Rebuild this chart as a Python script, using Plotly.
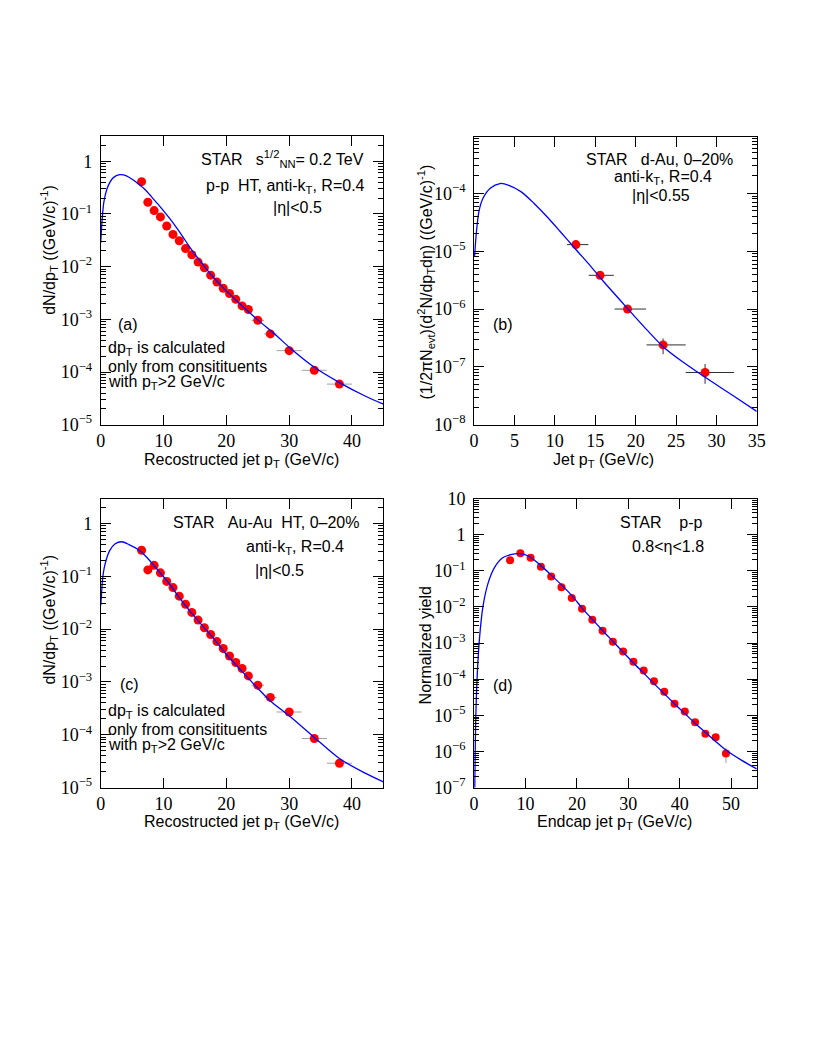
import plotly.graph_objects as go

# ---------------- data ----------------
# (a) p-p HT, anti-kT R=0.4, |eta|<0.5
a_pt = [6.5, 7.5, 8.5, 9.5, 10.5, 11.5, 12.5, 13.5, 14.5, 15.5, 16.5, 17.5,
        18.5, 19.5, 20.5, 21.5, 22.5, 23.5, 25, 27, 30, 34, 38]
a_yield = [0.41, 0.167, 0.116, 0.088, 0.059, 0.041, 0.031, 0.022, 0.0168, 0.0122,
           0.0095, 0.0069, 0.0051, 0.0039, 0.0031, 0.0024, 0.0018, 0.00154,
           9.6e-4, 5.3e-4, 2.55e-4, 1.08e-4, 5.9e-5]
a_pt_err = [0.5, 0.5, 0.5, 0.5, 0.5, 0.5, 0.5, 0.5, 0.5, 0.5, 0.5, 0.5,
            0.5, 0.5, 0.5, 0.5, 0.5, 0.5, 1, 1, 2, 2, 2]
# fit curve, log10 of the yield
a_fit_pt = [0, 0.1, 0.2, 0.5, 1, 1.5, 2, 3, 4, 5, 6, 7, 8, 9, 10, 11, 12, 13,
            14, 15, 16, 17, 18, 20, 22, 25, 28, 30, 34, 38, 42, 45]
a_fit_log = [-1.55, -1.32, -1.14, -0.77, -0.52, -0.39, -0.31, -0.255, -0.27, -0.34,
             -0.43, -0.53, -0.66, -0.80, -0.94, -1.09, -1.25, -1.42, -1.60, -1.765,
             -1.92, -2.07, -2.21, -2.46, -2.69, -3.01, -3.31, -3.53, -3.91, -4.20,
             -4.45, -4.61]

# (b) d-Au 0-20%, anti-kT R=0.4, |eta|<0.55
b_pt = [12.6, 15.6, 19.0, 23.4, 28.6]
b_yield = [1.3e-5, 3.83e-6, 1.0e-6, 2.4e-7, 8.0e-8]
b_bin_lo = [11.5, 14.2, 17.4, 21.35, 26.2]
b_bin_hi = [14.15, 17.3, 21.3, 26.2, 32.2]
b_err_up = [0.4e-6, 0.15e-6, 0.05e-6, 0.69e-7, 3.2e-8]
b_err_dn = [0.4e-6, 0.15e-6, 0.05e-6, 0.74e-7, 2.9e-8]
b_fit_pt = [0.05, 0.3, 0.6, 1.1, 2, 3.2, 4.3, 5.8, 7.4, 9, 10.6, 12.6, 14.5, 16,
            19, 21, 23.4, 26, 28.6, 32, 35]
b_fit_log = [-5.1, -4.65, -4.31, -4.085, -3.91, -3.83, -3.86, -3.97, -4.17, -4.40,
             -4.65, -4.97, -5.27, -5.52, -5.99, -6.30, -6.65, -6.93, -7.18, -7.49,
             -7.77]

# (c) Au-Au HT 0-20%, anti-kT R=0.4, |eta|<0.5
c_pt = [6.5, 7.5, 8.5, 9.5, 10.5, 11.5, 12.5, 13.5, 14.5, 15.5, 16.5, 17.5,
        18.5, 19.5, 20.5, 21.5, 22.5, 23.5, 25, 27, 30, 34, 38]
c_yield = [0.31, 0.132, 0.161, 0.116, 0.080, 0.061, 0.042, 0.0296, 0.0207, 0.0148,
           0.0106, 0.0079, 0.0058, 0.0043, 0.0031, 0.00234, 0.0018, 0.0013,
           8.7e-4, 5.1e-4, 2.7e-4, 8.5e-5, 2.9e-5]
c_pt_err = [0.5, 0.5, 0.5, 0.5, 0.5, 0.5, 0.5, 0.5, 0.5, 0.5, 0.5, 0.5,
            0.5, 0.5, 0.5, 0.5, 0.5, 0.5, 1, 1, 2, 2, 2]
c_fit_pt = [0, 0.1, 0.27, 0.63, 1.4, 2.3, 3.35, 4.5, 5.9, 7.2, 8.5, 9.8, 11.1,
            12.6, 14.2, 16, 18, 20, 22.5, 25, 27, 30, 34, 38, 42, 45]
c_fit_log = [-1.55, -1.39, -1.08, -0.80, -0.52, -0.385, -0.347, -0.40, -0.49, -0.625,
             -0.80, -0.98, -1.17, -1.42, -1.66, -1.91, -2.18, -2.48, -2.80, -3.12,
             -3.36, -3.64, -4.05, -4.45, -4.72, -4.89]

# (d) p-p endcap, 0.8<eta<1.8
d_pt = [7, 9, 11, 13, 15, 17, 19, 21, 23, 25, 27, 29, 31, 33, 35, 37, 39, 41,
        43, 45, 47, 49]
d_yield = [0.198, 0.306, 0.229, 0.13, 0.07, 0.0354, 0.0178, 0.0089, 0.0044, 0.0022,
           0.0011, 5.9e-4, 3.06e-4, 1.75e-4, 8.8e-5, 4.5e-5, 2.1e-5, 1.29e-5,
           6.5e-6, 3.1e-6, 2.5e-6, 8.8e-7]
d_err = [0, 0, 0, 0, 0, 0, 0, 0, 0, 0, 0, 0, 0, 0, 0, 0, 0, 0, 0, 0, 0, 4.0e-7]
d_fit_pt = [0.13, 0.33, 0.64, 1.09, 1.72, 2.68, 3.96, 5.55, 7.15, 8.74, 10.65,
            12.56, 14.8, 17.3, 19.25, 21, 23, 25, 27, 29, 31, 33, 35, 37, 39, 41,
            43, 45, 47, 49, 52, 55]
d_fit_log = [-7.0, -5.05, -3.79, -2.80, -1.99, -1.36, -0.91, -0.64, -0.55, -0.525,
             -0.595, -0.80, -1.09, -1.43, -1.72, -2.03, -2.34, -2.65, -2.95, -3.25,
             -3.55, -3.83, -4.12, -4.40, -4.68, -4.95, -5.22, -5.47, -5.72, -5.96,
             -6.24, -6.48]

# ---------------- layout helpers ----------------
W, H = 801, 1042          # page body adds 8px margin


def fx(px):
    return (px - 8) / W


def fy(py):
    return 1 - (py - 8) / H


TICKFONT = dict(family='Liberation Serif, Times New Roman, serif', size=18,
                color='black')
TEXTFONT = dict(family='Liberation Sans, Arial, sans-serif', size=16, color='black')


def x_axis(x0, x1, rng, dtick, anchor):
    return dict(domain=[fx(x0), fx(x1)], range=rng, dtick=dtick, tick0=0,
                ticks='inside', ticklen=10, tickwidth=1, tickcolor='black',
                showline=True, linecolor='black', linewidth=1, mirror='allticks',
                showgrid=False, zeroline=False, anchor=anchor, tickfont=TICKFONT,
                ticklabelstandoff=0)


def y_axis(y0, y1, lo, top, anchor):
    hi = int(top) if top >= 0 else -int(-top)
    decades = list(range(lo, hi + 1))
    vals = [10.0 ** n for n in decades]
    text = []
    for n in decades:
        if n == 0:
            text.append('1')
        elif n == 1:
            text.append('10')
        else:
            text.append('10<sup>\u2212%d</sup>' % (-n))
    minor = [k * 10.0 ** n for n in range(lo, hi + 1) for k in range(2, 10)]
    return dict(domain=[fy(y1), fy(y0)], type='log', range=[lo, top],
                tickmode='array', tickvals=vals, ticktext=text,
                ticks='inside', ticklen=10, tickwidth=1, tickcolor='black',
                minor=dict(tickmode='array', tickvals=minor, ticks='inside',
                           ticklen=5, tickwidth=1, tickcolor='black'),
                showline=True, linecolor='black', linewidth=1, mirror='allticks',
                showgrid=False, zeroline=False, anchor=anchor, tickfont=TICKFONT,
                ticklabelstandoff=4)


fig = go.Figure()


def add_panel(xa, ya, pt, y, ex_plus, ex_minus, ey_plus, ey_minus, err_color,
              fit_pt, fit_log, msize):
    fig.add_trace(go.Scatter(
        x=pt, y=y, mode='markers', xaxis=xa, yaxis=ya, showlegend=False,
        marker=dict(color='#ff0000', size=msize, line=dict(width=0)),
        error_x=dict(type='data', array=ex_plus, arrayminus=ex_minus,
                     color=err_color, thickness=1, width=0),
        error_y=dict(type='data', array=ey_plus, arrayminus=ey_minus,
                     color=err_color, thickness=1, width=0),
    ))
    fig.add_trace(go.Scatter(
        x=fit_pt, y=[10 ** v for v in fit_log], mode='lines', xaxis=xa, yaxis=ya,
        showlegend=False, line=dict(color='#0000ff', width=1.3, shape='spline',
                                    smoothing=0.8),
    ))


zeros23 = [0] * len(a_pt)
add_panel('x', 'y', a_pt, a_yield, a_pt_err, a_pt_err, zeros23, zeros23,
          '#a0a0a0', a_fit_pt, a_fit_log, 9)
add_panel('x2', 'y2', b_pt, b_yield,
          [h - p for h, p in zip(b_bin_hi, b_pt)],
          [p - l for l, p in zip(b_bin_lo, b_pt)],
          b_err_up, b_err_dn, '#303030', b_fit_pt, b_fit_log, 9)
add_panel('x3', 'y3', c_pt, c_yield, c_pt_err, c_pt_err, zeros23, zeros23,
          '#a0a0a0', c_fit_pt, c_fit_log, 9)
add_panel('x4', 'y4', d_pt, d_yield, [0] * len(d_pt), [0] * len(d_pt),
          d_err, d_err, '#a0a0a0', d_fit_pt, d_fit_log, 8)

# panel frames in page pixels
fig.update_layout(
    xaxis=x_axis(97.3, 385, [0, 45], 10, 'y'),
    yaxis=y_axis(128.3, 422.7, -5, 0.48, 'x'),
    xaxis2=x_axis(477.3, 765, [0, 35], 5, 'y2'),
    yaxis2=y_axis(129, 422.7, -8, -3.02, 'x2'),
    xaxis3=x_axis(97.3, 385, [0, 45], 10, 'y3'),
    yaxis3=y_axis(498, 792.7, -5, 0.47, 'x3'),
    xaxis4=x_axis(477.3, 765, [0, 55], 10, 'y4'),
    yaxis4=y_axis(498, 792.7, -7, 1.0, 'x4'),
)

annotations = []


def note(text, x, y, xanchor='center', angle=0):
    annotations.append(dict(text=text, x=fx(x), y=fy(y), xref='paper', yref='paper',
                            xanchor=xanchor, yanchor='middle', showarrow=False,
                            textangle=angle, font=TEXTFONT, align='left'))


nb = '&nbsp;'
# (a)
note('STAR' + nb * 3 + 's<sup>1/2</sup><sub>NN</sub>= 0.2 TeV', 282, 152)
note('p-p' + nb * 2 + 'HT, anti-k<sub>T</sub>, R=0.4', 285, 180)
note('|η|&lt;0.5', 298, 201)
note('(a)', 113, 320, 'left')
note('dp<sub>T</sub> is calculated', 103, 345, 'left')
note('only from consitituents', 103, 363, 'left')
note('with p<sub>T</sub>&gt;2 GeV/c', 103, 380, 'left')
# (b)
note('STAR' + nb * 3 + 'd-Au, 0–20%', 666, 152)
note('anti-k<sub>T</sub>, R=0.4', 670, 171)
note('|η|&lt;0.55', 668, 189)
note('(b)', 494, 321, 'left')
# (c)
note('STAR' + nb * 3 + 'Au-Au' + nb * 2 + 'HT, 0–20%', 265, 522)
note('anti-k<sub>T</sub>, R=0.4', 295, 548)
note('|η|&lt;0.5', 279, 571)
note('(c)', 115, 688, 'left')
note('dp<sub>T</sub> is calculated', 103, 715, 'left')
note('only from consitituents', 103, 733, 'left')
note('with p<sub>T</sub>&gt;2 GeV/c', 103, 750, 'left')
# (d)
note('STAR' + nb * 4 + 'p-p', 668, 522)
note('0.8&lt;η&lt;1.8', 675, 547)
note('(d)', 494, 689, 'left')

# axis titles
note('dN/dp<sub>T</sub> ((GeV/c)<sup>-1</sup>)', 45, 244, angle=-90)
note('(1/2πN<sub>evt</sub>)(d<sup>2</sup>N/dp<sub>T</sub>dη) ((GeV/c)<sup>-1</sup>)',
     428, 277, angle=-90)
note('dN/dp<sub>T</sub> ((GeV/c)<sup>-1</sup>)', 45, 621, angle=-90)
note('Normalized yield', 428, 648, angle=-90)
note('Recostructed jet p<sub>T</sub> (GeV/c)', 241, 459)
note('Jet p<sub>T</sub> (GeV/c)', 609, 459)
note('Recostructed jet p<sub>T</sub> (GeV/c)', 241, 828)
note('Endcap jet p<sub>T</sub> (GeV/c)', 620, 828)

fig.update_layout(
    width=W, height=H, autosize=False,
    margin=dict(l=0, r=0, t=0, b=0, pad=0),
    paper_bgcolor='white', plot_bgcolor='white',
    showlegend=False,
    annotations=annotations,
)

fig.write_html('out.html')
